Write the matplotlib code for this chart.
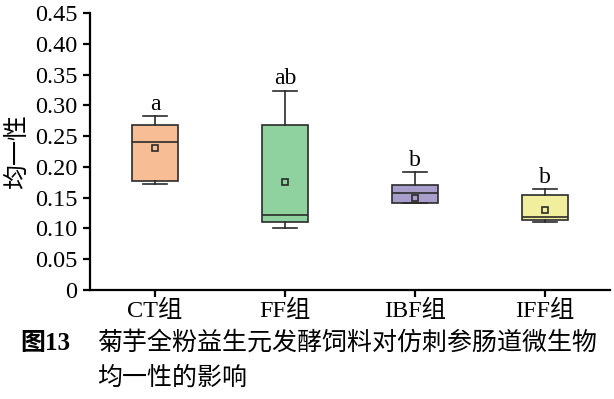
import matplotlib
matplotlib.use("Agg")
import matplotlib.pyplot as plt

plt.rcParams['font.family'] = ['Liberation Serif', 'Noto Sans CJK SC']
plt.rcParams['axes.unicode_minus'] = False

categories = ["CT组", "FF组", "IBF组", "IFF组"]
q1 = [0.177, 0.111, 0.141, 0.114]
med = [0.240, 0.122, 0.157, 0.118]
q3 = [0.268, 0.268, 0.170, 0.154]
whislo = [0.173, 0.100, 0.141, 0.111]
whishi = [0.282, 0.324, 0.191, 0.164]
means = [0.230, 0.175, 0.150, 0.130]
letters = ["a", "ab", "b", "b"]
colors = ["#F7BE95", "#90D1A0", "#A99DCC", "#F1EE9E"]
yticks = [0, 0.05, 0.10, 0.15, 0.20, 0.25, 0.30, 0.35, 0.40, 0.45]
ytick_labels = ["0", "0.05", "0.10", "0.15", "0.20", "0.25", "0.30", "0.35", "0.40", "0.45"]

fig = plt.figure(figsize=(6.14, 3.99), dpi=100)
ax = fig.add_axes([90/614, 1-290/399, (610-90)/614, (290-13)/399])

stats = []
for i, c in enumerate(categories):
    stats.append(dict(label=c, q1=q1[i], med=med[i], q3=q3[i],
                      whislo=whislo[i], whishi=whishi[i], mean=means[i], fliers=[]))

edge = "#2b2b2b"
bp = ax.bxp(stats, positions=range(1, 5), widths=0.36, patch_artist=True,
            showmeans=True, showfliers=False,
            boxprops=dict(edgecolor=edge, linewidth=1.2),
            medianprops=dict(color=edge, linewidth=1.2),
            whiskerprops=dict(color=edge, linewidth=1.2),
            capprops=dict(color=edge, linewidth=1.2),
            capwidths=0.19,
            meanprops=dict(marker='s', markerfacecolor='none', markeredgecolor=edge,
                           markersize=4, markeredgewidth=1.2))
for patch, col in zip(bp['boxes'], colors):
    patch.set_facecolor(col)

for i, l in enumerate(letters):
    ax.text(i+1, whishi[i] + 0.002, l, ha='center', va='bottom', fontsize=17)

ax.set_xlim(0.5, 4.5)
ax.set_ylim(0, 0.45)
ax.set_yticks(yticks)
ax.set_yticklabels(ytick_labels)
ax.set_xticks(range(1, 5))
ax.set_xticklabels(categories)
ax.spines['top'].set_visible(False)
ax.spines['right'].set_visible(False)
for s in ['left', 'bottom']:
    ax.spines[s].set_linewidth(1.6)
ax.tick_params(axis='both', direction='out', length=5, width=1.6, labelsize=17.5)
ax.tick_params(axis='y', pad=4)
ax.tick_params(axis='x', pad=2)
ax.set_ylabel("均一性", fontsize=18, labelpad=4)

fig.text(20/614, 1-343/399, "图13", fontsize=18, fontweight='bold', va='center', ha='left')
fig.text(97/614, 1-343/399, "菊芋全粉益生元发酵饲料对仿刺参肠道微生物", fontsize=18, va='center', ha='left')
fig.text(97/614, 1-378/399, "均一性的影响", fontsize=18, va='center', ha='left')

fig.savefig("out.png", dpi=100)
